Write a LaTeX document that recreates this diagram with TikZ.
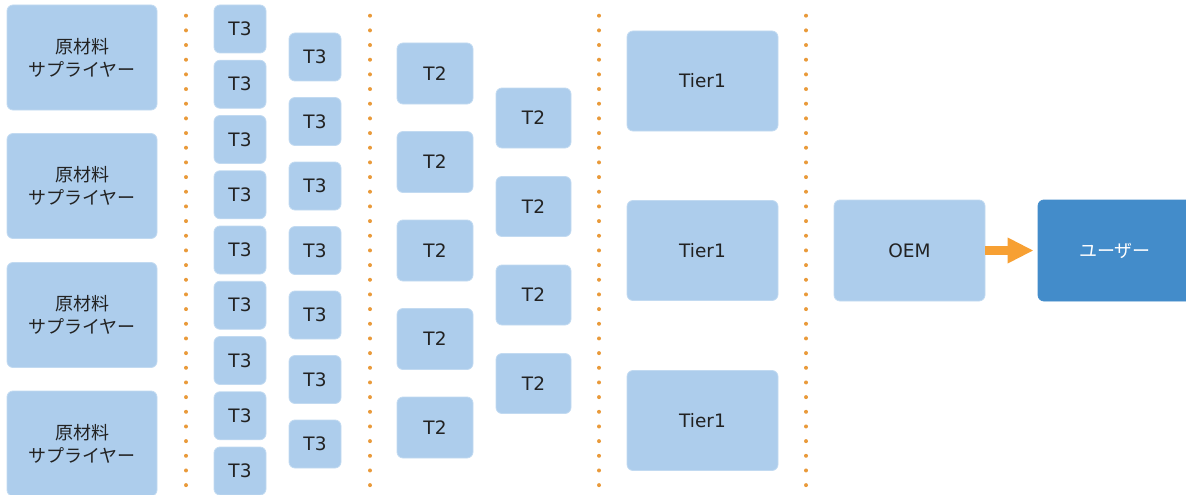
\documentclass[tikz,border=0pt]{standalone}
\usepackage{fontspec}
\setmainfont{DejaVu Sans}
\newfontfamily\jp{Noto Sans CJK JP}
\usetikzlibrary{arrows.meta}
\definecolor{boxblue}{HTML}{ADCDEC}
\definecolor{boxedge}{HTML}{C2DAF1}
\definecolor{userblue}{HTML}{438CCA}
\definecolor{dotorange}{HTML}{E99A3A}
\definecolor{arroworange}{HTML}{F7A033}
\definecolor{txt}{HTML}{222222}
\tikzset{
  box/.style={rectangle, rounded corners=6pt, fill=boxblue, draw=boxedge, line width=0.8pt,
    inner sep=0pt, text=txt, font=\fontsize{18.5}{23}\selectfont, align=center},
  jptext/.style={font=\fontsize{18}{23}\selectfont\jp},
  sepline/.style={dotorange, line width=4pt, line cap=round, dash pattern=on 0pt off 14.67pt},
}
\begin{document}
\begin{tikzpicture}[x=1pt,y=-1pt]
\useasboundingbox (0,0) rectangle (1186,495);
\begin{scope}
\clip (0,0) rectangle (1186,495);
% separators
\foreach \x in {186,370,599,806}
  \draw[sepline] (\x,15.7) -- (\x,486);
% raw material suppliers
\foreach \y [count=\i] in {57.5,186,315,443.5}
  \node[box, jptext, minimum width=150pt, minimum height=105pt] (raw\i) at (82,\y)
    {原材料\\サプライヤー};
% T3 column 1
\foreach \i in {0,...,8}
  \node[box, minimum width=52pt, minimum height=48pt] (tA\i) at (240,29+55.25*\i) {T3};
% T3 column 2
\foreach \i in {0,...,6}
  \node[box, minimum width=52pt, minimum height=48pt] (tB\i) at (315,57+64.5*\i) {T3};
% T2 column 1
\foreach \i in {0,...,4}
  \node[box, minimum width=76pt, minimum height=61pt] (sA\i) at (435,73.5+88.5*\i) {T2};
% T2 column 2
\foreach \i in {0,...,3}
  \node[box, minimum width=75pt, minimum height=60pt] (sB\i) at (533.5,118+88.5*\i) {T2};
% Tier1
\foreach \y [count=\i] in {81,250.5,420.5}
  \node[box, minimum width=151pt, minimum height=100pt] (tier\i) at (702.5,\y) {Tier1};
% OEM
\node[box, minimum width=151pt, minimum height=101pt] (oem) at (909.5,250.5) {OEM};
% user
\node[box, jptext, fill=userblue, draw=userblue, text=white, minimum width=154pt, minimum height=101pt]
  (user) at (1115,250.5) {ユーザー};
% arrow
\draw[arroworange, line width=9pt, -{Triangle[length=26pt,width=24pt]}, shorten >=4pt]
  (oem.east) -- (user.west);
\end{scope}
\end{tikzpicture}
\end{document}
